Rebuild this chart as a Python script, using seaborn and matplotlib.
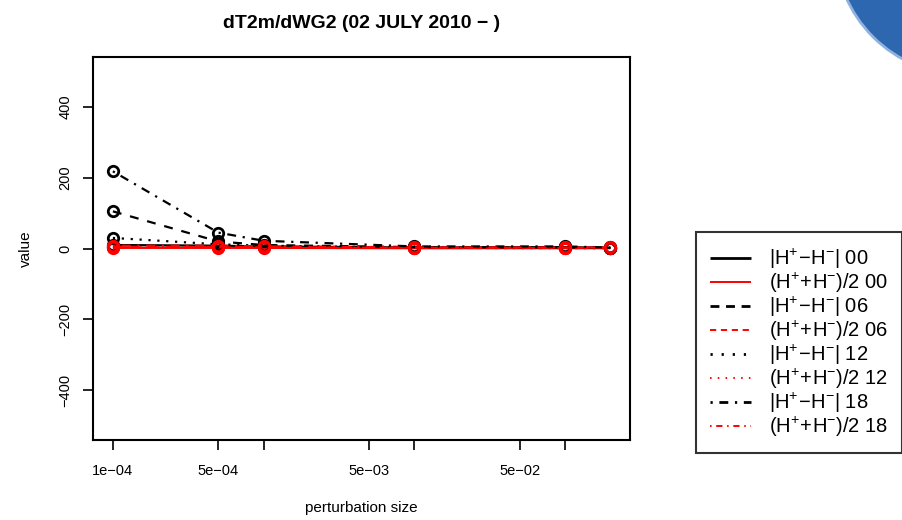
import numpy as np
import pandas as pd
import seaborn as sns
import matplotlib
matplotlib.use("Agg")
import matplotlib.pyplot as plt
from matplotlib.lines import Line2D
from matplotlib.patches import Circle

sns.set_theme(style="white")
plt.rcParams['font.family'] = ['Liberation Sans', 'DejaVu Sans']
plt.rcParams['mathtext.fontset'] = 'custom'
plt.rcParams['mathtext.rm'] = 'Liberation Sans'
plt.rcParams['mathtext.it'] = 'Liberation Sans:italic'
plt.rcParams['mathtext.bf'] = 'Liberation Sans:bold'
plt.rcParams['text.color'] = 'black'
plt.rcParams['axes.labelcolor'] = 'black'
plt.rcParams['xtick.color'] = 'black'
plt.rcParams['ytick.color'] = 'black'

# data
pert = [1e-4, 5e-4, 1e-3, 1e-2, 1e-1, 2e-1]
abs00 = [10, 8, 6, 3, 4, 2]
mean00 = [2, 2, 2, 1, 1, 1]
abs06 = [105, 20, 10, 4, 3, 2]
mean06 = [5, 5, 4, 2, 2, 2]
abs12 = [30, 12, 8, 3, 3, 2]
mean12 = [3, 3, 3, 2, 1, 1]
abs18 = [218, 45, 22, 6, 6, 3]
mean18 = [8, 8, 6, 3, 3, 3]

hours = ["00", "06", "12", "18"]
abs_series = [abs00, abs06, abs12, abs18]
mean_series = [mean00, mean06, mean12, mean18]
styles = [(0, ()), (0, (4, 4)), (0, (1, 3)), (0, (1, 3, 4, 3))]
leg_styles = [(0, ()), (0, (3.2, 2.4)), (0, (0.8, 3.2)), (0, (0.8, 2.4, 3.2, 2.4))]

yticks = [-400, -200, 0, 200, 400]
xticks = [1e-4, 5e-4, 1e-3, 5e-3, 1e-2, 5e-2, 1e-1]
xticklabels = ["1e\u221204", "5e\u221204", "", "5e\u221203", "", "5e\u221202", ""]

fig = plt.figure(figsize=(9.03, 5.2), dpi=100)
ax = fig.add_axes([0.103, 0.154, 0.595, 0.736])

handles = []
labels = []
for h, a, m, ls, lls in zip(hours, abs_series, mean_series, styles, leg_styles):
    for vals, col, lab in [(a, 'black', r'$|\mathrm{H}^{+}\!-\!\mathrm{H}^{-}|$ ' + h),
                           (m, 'red', r'$(\mathrm{H}^{+}\!+\!\mathrm{H}^{-})/2$ ' + h)]:
        df = pd.DataFrame({'x': pert, 'y': vals})
        sns.lineplot(data=df, x='x', y='y', ax=ax, color=col, linestyle=ls, lw=1.6,
                     marker='o', markerfacecolor='none', markeredgecolor=col,
                     markeredgewidth=2, markersize=7.5, legend=False)
        handles.append(Line2D([], [], color=col, linestyle=lls, lw=2 if col == 'black' else 1.4))
        labels.append(lab)

ax.set_xscale('log')
ax.set_xlim(10 ** -4.132, 10 ** -0.567)
ax.set_ylim(-540, 540)
ax.set_xticks(xticks)
ax.set_xticklabels(xticklabels)
ax.minorticks_off()
ax.set_yticks(yticks)
ax.set_yticklabels([str(v).replace('-', '\u2212') for v in yticks], rotation=90, va='center')
ax.tick_params(axis='both', direction='out', length=7, width=1.2, labelsize=10.5,
               bottom=True, left=True, color='black', labelcolor='black')
ax.tick_params(axis='x', pad=10)
ax.tick_params(axis='y', pad=8)
for s in ax.spines.values():
    s.set_color('black')
    s.set_linewidth(1.5)
ax.set_xlabel('perturbation size', fontsize=11, labelpad=17)
ax.set_ylabel('value', fontsize=11, labelpad=18)
ax.set_title('dT2m/dWG2 (02 JULY 2010 \u2212 )', fontsize=14, fontweight='bold', pad=21)

leg = fig.legend(handles, labels, loc='upper left', bbox_to_anchor=(0.771, 0.553),
                 fontsize=14.5, frameon=True, fancybox=False, edgecolor='black',
                 handlelength=2.0, handletextpad=0.9, labelspacing=0.0, borderpad=0.7,
                 borderaxespad=0)
leg.get_frame().set_linewidth(1.5)

# decorative blue shape at top right (in pixels)
fig.patches.append(Circle((965, 575), 130, transform=None,
                          facecolor='#2d67b0', edgecolor='#8fb2de', lw=2, zorder=5))

fig.savefig('out.png', dpi=100)
